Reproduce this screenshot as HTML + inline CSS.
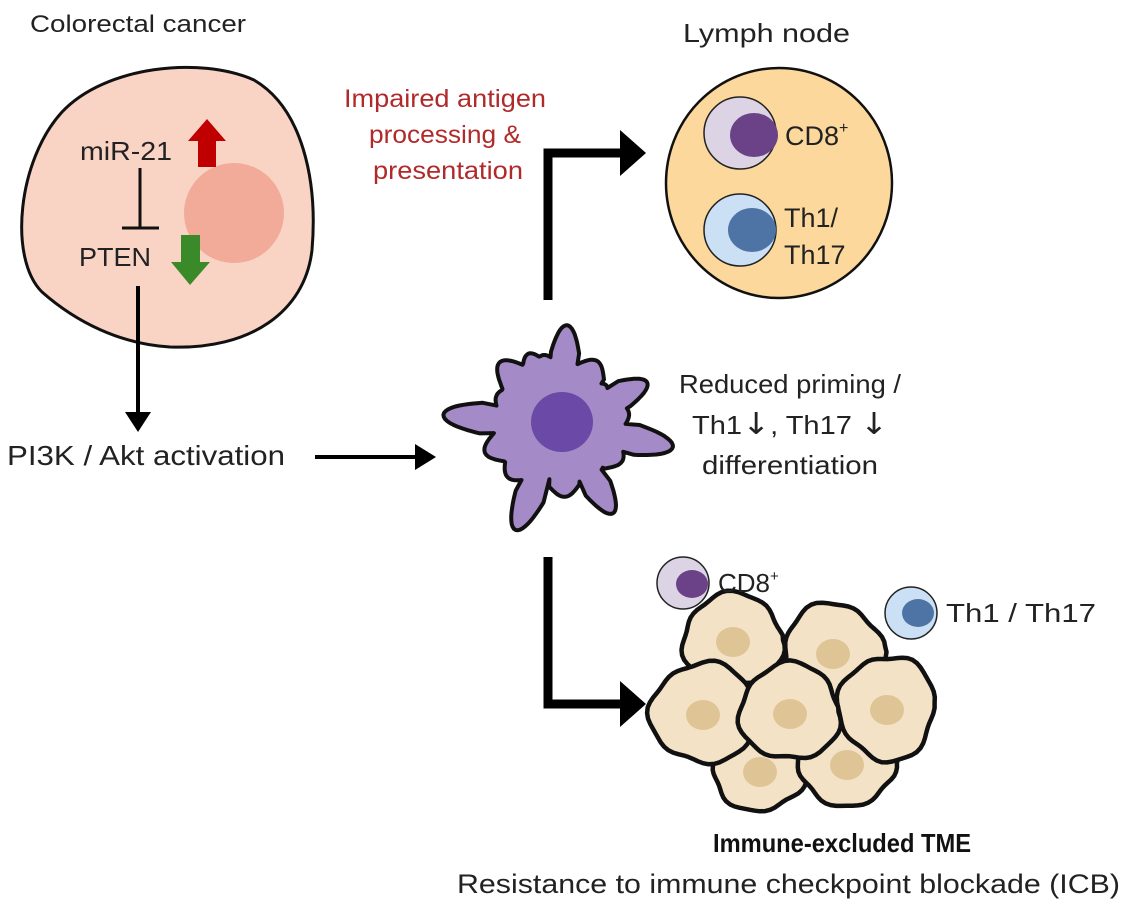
<!DOCTYPE html>
<html><head><meta charset="utf-8"><style>
html,body{margin:0;padding:0;background:#fff;}
svg{display:block;font-family:"Liberation Sans","DejaVu Sans",sans-serif;}
</style></head><body>
<svg id="s" width="1131" height="906" viewBox="0 0 1131 906" xmlns="http://www.w3.org/2000/svg">
<rect width="1131" height="906" fill="#fff"/>
<!-- Cancer cell -->
<text x="30" y="32" font-size="24" fill="#222" textLength="216" lengthAdjust="spacingAndGlyphs">Colorectal cancer</text>
<path d="M62 112 C105 66,200 56,254 80 C302 108,318 180,312 250 C305 312,250 350,170 347 C120 344,76 322,42 292 C8 258,18 160,62 112 Z" fill="#f9d4c5" stroke="#111" stroke-width="3"/>
<circle cx="234" cy="213" r="50" fill="#f1ab98"/>
<text x="80" y="160" font-size="26" fill="#222" textLength="92" lengthAdjust="spacingAndGlyphs">miR-21</text>
<path d="M198 167 V141 H188 L207 119 L226 141 H216 V167 Z" fill="#c00000"/>
<line x1="140" y1="168" x2="140" y2="228" stroke="#111" stroke-width="3"/>
<line x1="122" y1="228" x2="159" y2="228" stroke="#111" stroke-width="3"/>
<text x="79" y="266" font-size="26" fill="#222" textLength="72" lengthAdjust="spacingAndGlyphs">PTEN</text>
<path d="M181 235 V262 H171 L190 285 L210 262 H200 V235 Z" fill="#3a8a2a"/>
<line x1="138" y1="286" x2="138" y2="414" stroke="#000" stroke-width="4"/>
<path d="M125 412 L151 412 L138 432 Z" fill="#000"/>
<text x="7" y="465" font-size="28" fill="#222" textLength="278" lengthAdjust="spacingAndGlyphs">PI3K / Akt activation</text>
<line x1="315" y1="457" x2="418" y2="457" stroke="#000" stroke-width="4"/>
<path d="M415 444 L436 457 L415 470 Z" fill="#000"/>
<!-- Red text -->
<g fill="#b02a2a" font-size="25" text-anchor="middle">
<text x="445" y="107" textLength="202" lengthAdjust="spacingAndGlyphs">Impaired antigen</text>
<text x="445" y="143" textLength="152" lengthAdjust="spacingAndGlyphs">processing &amp;</text>
<text x="448" y="179" textLength="150" lengthAdjust="spacingAndGlyphs">presentation</text>
</g>
<!-- Upper elbow -->
<path d="M548 300 V153 H625" fill="none" stroke="#000" stroke-width="9"/>
<path d="M620 130 L646 153 L620 176 Z" fill="#000"/>
<!-- Lymph node -->
<text x="683" y="42" font-size="26" fill="#222" textLength="167" lengthAdjust="spacingAndGlyphs">Lymph node</text>
<ellipse cx="779" cy="183" rx="113" ry="115" fill="#fcd89c" stroke="#111" stroke-width="2.5"/>
<circle cx="740" cy="133" r="36" fill="#dcd3e4" stroke="#222" stroke-width="1.5"/>
<ellipse cx="754" cy="135" rx="24" ry="22" fill="#6b4287"/>
<text x="785" y="145" font-size="27" fill="#222">CD8<tspan font-size="16" dy="-12">+</tspan></text>
<circle cx="740" cy="230" r="36" fill="#cce0f5" stroke="#222" stroke-width="1.5"/>
<ellipse cx="752" cy="230" rx="24" ry="22" fill="#4e74a6"/>
<text x="784" y="227" font-size="27" fill="#222">Th1/</text>
<text x="784" y="264" font-size="27" fill="#222">Th17</text>
<!-- Dendritic cell -->
<path id="dc" fill="#a58ac8" stroke="#111" stroke-width="4" stroke-linejoin="round" d=""/>
<ellipse cx="562" cy="422" rx="31" ry="30" fill="#6a49a7"/>
<!-- Reduced priming -->
<g font-size="26" fill="#222" text-anchor="middle">
<text x="790" y="393" textLength="222" lengthAdjust="spacingAndGlyphs">Reduced priming /</text>
<text x="790" y="434" textLength="196" lengthAdjust="spacingAndGlyphs">Th1<tspan font-family="DejaVu Sans" font-size="30">↓</tspan>, Th17 <tspan font-family="DejaVu Sans" font-size="30">↓</tspan></text>
<text x="790" y="474" textLength="176" lengthAdjust="spacingAndGlyphs">differentiation</text>
</g>
<!-- Lower elbow -->
<path d="M548 557 V704 H625" fill="none" stroke="#000" stroke-width="9"/>
<path d="M620 681 L646 704 L620 727 Z" fill="#000"/>
<!-- Tumor cluster -->
<g id="tumor"></g>
<circle cx="683" cy="583" r="26" fill="#dcd3e4" stroke="#222" stroke-width="1.5"/>
<ellipse cx="692" cy="584" rx="16" ry="14" fill="#6b4287"/>
<text x="718" y="592" font-size="26" fill="#222">CD8<tspan font-size="15" dy="-11">+</tspan></text>
<circle cx="911" cy="613" r="26" fill="#cce0f5" stroke="#222" stroke-width="1.5"/>
<ellipse cx="918" cy="613" rx="16" ry="14" fill="#4e74a6"/>
<text x="946" y="622" font-size="26" fill="#222" textLength="150" lengthAdjust="spacingAndGlyphs">Th1 / Th17</text>
<!-- Bottom text -->
<text x="842" y="852" font-size="26" font-weight="bold" fill="#111" text-anchor="middle" textLength="258" lengthAdjust="spacingAndGlyphs">Immune-excluded TME</text>
<text x="457" y="893" font-size="27" fill="#222" textLength="663" lengthAdjust="spacingAndGlyphs">Resistance to immune checkpoint blockade (ICB)</text>
</svg>
<script>
(function(){
 var cx=560,cy=425,R=58;
 var sp=[[185,117,5],[274,100,5],[226,87,6],[246,78,5],[334,97,5],[11,115,5],[59,103,5],[86,72,6],[113,114,5],[160,80,6],[300,74,6],[30,72,6],[135,74,6],[205,70,6],[256,72,5],[350,70,6]];
 var d="";
 for(var a=0;a<360;a+=1){
  var r=R+3*Math.sin(a*0.3);
  for(var i=0;i<sp.length;i++){
   var da=a-sp[i][0]; da=((da+540)%360)-180;
   var w=sp[i][2];
   if(Math.abs(da)<w*2.4){
    var v=Math.exp(-da*da/(2*w*w));
    r=Math.max(r,R+(sp[i][1]-R)*Math.pow(v,0.4));
   }
  }
  var t=a*Math.PI/180;
  d+=(a?"L":"M")+(cx+r*Math.cos(t)).toFixed(1)+" "+(cy+r*Math.sin(t)).toFixed(1);
 }
 document.getElementById("dc").setAttribute("d",d+"Z");
 var cells=[[733,640,50,46],[833,652,50,48],[760,770,48,40],[847,763,50,42],[887,708,48,52],[703,713,52,50],[790,712,50,48]];
 var g=document.getElementById("tumor"),s="";
 cells.forEach(function(c,k){
  var p="";
  for(var a=0;a<360;a+=6){var t=a*Math.PI/180;var f=1+0.05*Math.sin(a*Math.PI/60+k)+0.03*Math.sin(a*Math.PI/25+k*2);
   p+=(a?"L":"M")+(c[0]+c[2]*f*Math.cos(t)).toFixed(1)+" "+(c[1]+c[3]*f*Math.sin(t)).toFixed(1);}
  s+='<path d="'+p+'Z" fill="#f3e2c6" stroke="#111" stroke-width="4.5" stroke-linejoin="round"/>';
  s+='<ellipse cx="'+c[0]+'" cy="'+(c[1]+2)+'" rx="17" ry="15" fill="#dfc596"/>';
 });
 g.innerHTML=s;
})();
</script>
</body></html>
